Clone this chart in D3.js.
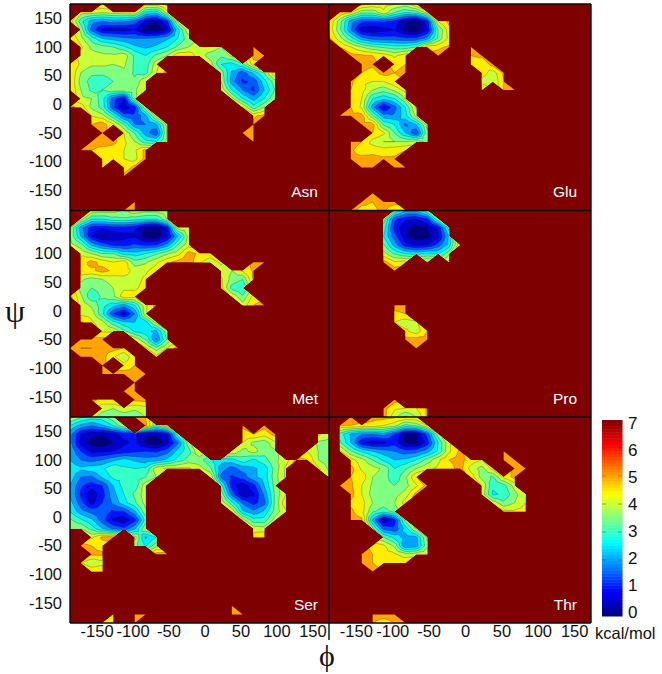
<!DOCTYPE html>
<html><head><meta charset="utf-8">
<script src="https://cdn.jsdelivr.net/npm/d3@7"></script>
<style>html,body{margin:0;background:#fff}svg{display:block}text{font-family:"Liberation Sans",Arial,sans-serif}</style>
</head><body><svg id="c" width="662" height="674"></svg>
<script>
const _ = null;
// Each row: [first column index, values...]; rows run from psi=180 (top) to psi=-180, columns phi=-180..180 in 15 degree steps.
const asn = [
[3,5.0,_,_,_,4.8,4.8,5.2],
[1,4.2,4.2,4.0,4.2,4.3,4.4,2.9,2.6,4.3],
[0,4.8,3.2,2.2,2.0,2.2,2.1,1.8,.9,.5,1.4,4.2],
[1,3.9,1.8,.9,.8,.8,1.0,.2,.1,.7,2.8,4.4],
[0,5,4.2,3.3,2.5,2.3,2.1,2.0,2.0,2.1,2.4,3.0,3.8],
[1,4.6,3.9,3.7,3.5,3.1,2.6,2.4,2.6,3.0,3.6,4.0,4.2,4.3,4.0,_,_,5.1],
[1,4.3,4.2,4.1,4.1,4.3,3.4,3.0,3.6,4.0,4.9,4.9,4.2,3.8,3.6,4.1,_,5.2,5.3],
[0,5,4.4,4.1,4.1,4.0,4.1,3.4,3.2,4.3,_,_,_,_,4.2,3.0,2.8,3.4,4.8],
[0,5,4.0,3.6,3.6,3.7,3.9,3.4,3.3,4.5,5.2,_,_,_,_,3.8,2.4,1.7,2.6,3.5,5],
[0,5,3.8,3.3,3.2,3.5,3.8,3.6,4.5,_,_,_,_,_,_,4,2.2,1.4,1.6,2.8,3.8],
[0,5,4.0,3.4,3.5,3.8,3.8,3.9,4.5,_,_,_,_,_,_,4.4,3.0,2.0,1.4,2.5,3.5],
[1,4.1,4.0,3.2,1.7,1.0,3.9,_,_,_,_,_,_,_,_,4.2,3.0,2.3,3.0,4.0],
[0,5.2,4.8,3.9,3.3,1.6,.6,1.3,4.0,_,_,_,_,_,_,_,_,4.5,3.2,4.0],
[2,4.5,4.2,3.2,1.8,1.6,2.3,4.2,_,_,_,_,_,_,_,_,4.9,5.2],
[2,5,5.3,4.6,3.5,2.0,2.0,2.4,4.2,_,_,_,_,_,_,_,5.2],
[3,5.3,_,4.5,3.5,2.2,1.6,4.1,_,_,_,_,_,_,5.2,5.2],
[2,5.2,5.3,5.2,4.6,4.0,3.2,3.0,4.2,_,_,_,_,_,_,_,5.2],
[1,5,5,4.8,4.7,4.5,4.4,5.2],
[3,4.9,4.8,4.5,4.3,5.2],
[3,4.9,_,4.6,5.2],
[5,5.2],
[],[],
[6,5.2],
[5,5.1,5.0]];
const glu = [
[3,5.2,4.9,4.7,4.5,4.3,5],
[1,5,4.5,3.6,3.6,4.4,3.5,3.0,3.2,4.2],
[0,5,3.7,2.2,1.6,1.5,1.6,1.3,.6,.2,1.2,4.5,5.2],
[0,4.9,3.6,2.0,.7,.6,.8,1.0,.3,.1,.9,3.5,4.8],
[0,5.1,4.2,3.2,2.2,1.8,1.7,1.7,1.6,1.6,2.2,3.6,4.7],
[1,5,4.5,4,3.6,3.4,3.2,3.2,3.5,4.8,4.9,5.1,_,5.2],
[2,5.2,5.1,5.0,4.8,4.4,4.8,_,_,5.2,_,_,5,5.1],
[3,5.2,5.1,_,4.9,5.0,_,_,_,_,_,4.9,4.6,5.2],
[3,5,4.8,5.2,5,5.1,_,_,_,_,_,_,4.8,4.2,5.1],
[2,5.1,4.6,4.5,4.5,4.9,_,_,_,_,_,_,_,4.3,4.0,5.0],
[2,5,4.7,4.0,3.7,4.1,4.7,_,_,_,_,_,_,5.0,_,5.0,5.1],
[2,5,4.5,3.0,2.6,3.0,4.0],
[2,5,4.4,2.2,.9,1.8,3.0,4.6],
[1,5.2,5.1,5.2,3.6,2.2,2.1,2.8,4.2],
[3,5.2,5.2,3.4,3.0,1.9,2.5,4.2],
[4,5.0,4.6,3.5,2.5,1.5,3.9],
[2,5.3,5,4.3,4.0,4.0,4.0,4.2,3.9],
[2,5.1,4.7,4.8,4.7,4.8,5.0],
[2,5.1,5.2,5.2,5.1,5.1],
[3,5.2,5.2,_,5.2,5.2],
[],[],
[4,5.3],
[3,5.2,5,5.2,5.2],
[2,5.3,4.7,4.9,5.1,4.6,4.7,5.2]];
const met = [
[2,4.4,4.3,4.2,3.9,4.4,4.2,4.2,4.3],
[1,4.2,3,3,3.3,3.4,3.2,3,3,4],
[0,4.1,2.2,1.2,1.1,1.3,1.3,1.1,.4,.2,1.1,4.2,4.4],
[0,4,2.5,1,.4,.6,.8,.9,.2,.2,.8,2.5,4.2],
[0,4.2,3.7,2.4,1.8,1.4,1.3,1.6,1.4,1.5,2.2,3.5,4.3],
[1,4.4,4,3.5,3.5,2.8,2.7,3,3.4,3.9,4.3,5.2,4.9,4.8],
[1,4.7,5.2,4.8,4.5,4.8,3.7,3.9,4.4,4.9,5.2,5.3,4.6,4.2,4.6,_,_,5.2,5.3],
[1,4.9,4.9,5.2,4.9,4.8,4.3,4.4,4.8,_,_,_,_,_,4.3,4.0,4.6,5.1],
[1,4.1,3.8,4,4.2,4.3,4.3,4.6,_,_,_,_,_,_,4.6,3.8,3.5,5.1],
[1,3.8,3.5,3.7,4,4.4,4.4,4.7,_,_,_,_,_,_,4.7,3.3,3.0],
[0,5.2,4.1,3.1,3.6,3.9,4.8,4.7,_,_,_,_,_,_,_,_,4.4,3.6,4.7],
[1,4.3,3.9,3.2,2.7,2.3,3.0,4.4,5.2,_,_,_,_,_,_,_,4.2,5,5.2],
[1,4.4,4.3,3.1,1.5,.8,2,4.4],
[1,5.1,4.6,4.2,3.2,2.6,2.5,2.7,4.2],
[3,4.4,4.4,3.6,2.9,2.6,2.4,3.9],
[1,5.2,5.2,5.2,_,_,4.4,3.5,1.9,3.6],
[0,5.3,5,5,5.1,5.2,5.0,_,4.6,3.7,4.5,5.3],
[1,5.3,5.2,5.2,4.6,4.0,5.0,_,4.7],
[3,5.2,_,4.7,5.0],
[3,5.2,5.2,5.2,5.1,5.2],
[6,5.2],
[5,5.2,5.2],
[2,5.2,4.8,5.0,_,5.1,5.2],
[3,4.2,4,4.3,4.1,4.3],
[2,4.2,3.7,3.6,3.7,3.6,4.0]];
const pro = [
[6,3.5,2.6,2.6,3.5],
[5,3.8,1.6,1.1,1.0,1.4,3.5],
[5,3.3,1.3,.6,.3,.5,1.1,3.2],
[5,3,1.7,.6,.2,.3,.8,2.6],
[5,3.6,2.3,1.2,.8,1,1.7,2.7,5],
[5,4.2,3.4,3,2.8,3,2.9,3.8],
[5,5.2,4.6,4.7,_,4.7,_,4.7],
[6,5.3],
[],[],[],
[6,5.2,5.2],
[6,4.9,5.0],
[6,4.5,4.2,4.4],
[7,4.6,4.2,5.0],
[7,5.2,5.2,5.2],
[8,5.2],
[],[],[],[],[],
[6,5.2],
[5,5.2,4.6,4.5,4.5,5.1],
[5,5.2,4.2,3.4,4.0,5.1]];
const ser = [
[0,4.2,3.6,3.3,3.3,3.9,_,5.2,5.0],
[0,3,2.3,2,2.4,3,4,_,5.2,3.5,4.5,_,_,_,_,_,_,5.2,_,5.2],
[0,2.2,1,.6,.6,.8,1.2,1.1,.6,.6,.9,3.3,_,_,_,_,_,4.6,5,4.7,5.2,_,_,_,4.6,4.2],
[0,2.2,.8,.3,.1,.5,.9,1.1,.4,.1,.7,1.9,3.8,_,_,_,_,4.5,3.9,3.7,4.4,_,_,_,3.9,3.8],
[0,2.4,1.5,.9,.9,1,1.2,1.4,1.5,1.4,1.8,2.7,3.3,4.5,_,_,4.5,3.8,4.2,3.7,3.9,_,_,4.5,4,3.9],
[0,2.5,2.0,1.8,2.0,2.4,2.7,2.4,2.2,2.3,2.6,3.2,3.7,3.7,3.1,2.7,2.8,3.3,2.9,3.3,3.9,4.2,5.2,5,4,3.7],
[0,2.8,2.6,2.8,2.9,3.4,3.1,3,3.1,4.3,4.6,4.6,4.6,4.2,3.6,2.2,1.8,2.2,2.4,2.7,3.7,4.6,_,_,4.6,3.9],
[0,2.8,2,1.9,2.6,3.1,3.1,3.3,3.5,4,_,_,_,_,4.5,1.9,1.4,1.7,2.4,2.7,3.8,4.6,_,_,_,4.1],
[0,2.5,1.6,1.2,1.5,2.5,3.2,3.2,4.3,_,_,_,_,_,_,3.2,1.2,.7,1.3,2.5,3.7,_,_,_,_,5.0],
[0,2.5,1.4,.6,1.3,2.3,3,3.6,4.3,_,_,_,_,_,_,3.9,1.8,.6,.9,2.1,3.6,4.5,_,_,_,4.7],
[0,2.7,1.7,.8,1.5,2.1,2.8,3.4,4.2,_,_,_,_,_,_,4.4,3.2,1.9,1.3,1.8,3.6,4.9,_,_,_,5.2],
[0,3,2.2,1.8,1.8,1.4,1.5,2.4,3.9,_,_,_,_,_,_,_,4.4,2.6,2.1,2.6,3.7,4.4],
[0,3.6,3.1,2.6,1.7,.9,.6,1.3,3.2,_,_,_,_,_,_,_,_,4.2,3.2,3.2,4.2],
[0,4,4,3.3,2.5,1.9,1.6,2.4,4.0,_,_,_,_,_,_,_,_,_,4.3,4.2],
[2,4.4,5.1,5.2,_,4.2,2.4,3.0,_,_,_,_,_,_,_,_,4.7,5],
[1,5.2,5,4.8,_,_,3.7,2.9,3.8],
[2,5.1,5.1,_,_,_,_,5.3,5.3],
[1,4.5,4,4.3],
[2,5,5],
[],[],[],
[15,5.2],
[4,5,_,5.2,5.2,_,_,_,_,_,_,_,5.2,5.2],
[3,5,5,_,5]];
const thr = [
[2,5.3,_,5.2,5.2,5.1,5,5],
[1,5,5,4.9,4.8,4.5,4.2,3.3,3.6,4.5],
[1,3.3,2.4,2,2,2.2,1.5,.4,.4,1.7,3.8],
[1,3.6,2.5,1.1,.7,.9,1.3,.4,.3,1.2,3,4.4],
[1,4.6,3.6,2.9,2.5,2.2,2,1.7,1.8,2.3,3.1,4.4,5.1,_,_,_,5.3],
[2,4.7,4.2,3.5,2.9,2.5,2.6,3,3.7,4.4,5,5.2,4.8,4.5,_,5.2,5.3],
[2,5.2,4.4,4.2,3.9,3,3.4,4,4.4,4.6,4.8,5.2,4.3,3.8,4.7,_,5.2,5.3],
[2,5,4.8,4,3.8,3.1,3.9,5,_,_,_,_,4.8,3.8,3.4,4.6,5.2],
[1,5.2,5.1,4.5,3.9,3.7,3.5,3.8,4.4,5.2,_,_,_,_,4.5,3.1,3.3,4.2],
[2,5.2,4.5,3.8,3.6,3.8,4.2,5.2,_,_,_,_,_,4.3,2.9,3.1,3.8,4.5],
[2,4.9,4.7,4,3.8,4,4.7,_,_,_,_,_,_,_,4.3,3.6,4,4.5],
[2,5.1,4.7,3.6,3.2,3.7,_,_,_,_,_,_,_,_,_,4.6,4.6,4.7],
[2,5.2,5.1,2.4,.5,1.3,3.7],
[4,3.6,1.8,1.6,2.7,4.1],
[5,3.5,2.8,2.3,2.4,4.1],
[4,4.9,4.6,3.9,2,2.2,3.9],
[3,5.2,5,4.7,4.6,4.2,4.3,4.5],
[3,5.1,5,4.8,5,5],
[4,5.2],
[],[],[],[],
[4,5.2,5.2,5.2],
[4,5,4.8,5,5.2]];

const phiAxis = d3.range(-180,181,15);
const psiAxis = d3.range(180,-181,-15);
const phiTicks = [-150,-100,-50,0,50,100,150];
const psiTicks = [150,100,50,0,-50,-100,-150];
const levels = d3.range(0,5.5,.5);
const barTicks = [0,1,2,3,4,5,6,7];
const panels = [
 {name:"Asn",rows:asn,c:0,r:0},{name:"Glu",rows:glu,c:1,r:0},
 {name:"Met",rows:met,c:0,r:1},{name:"Pro",rows:pro,c:1,r:1},
 {name:"Ser",rows:ser,c:0,r:2},{name:"Thr",rows:thr,c:1,r:2}];
const colX = [[70,329],[329,591]];
const rowY = [[4,210.5],[210.5,417],[417,623]];

const jet = d3.scaleLinear().domain([0,.125,.375,.625,.875,1]).range(["#00007f","#0000ff","#00ffff","#ffff00","#ff0000","#7f0000"]);
const energy = v => jet(v/7);
const DARK = jet(1);
const svg = d3.select("#c");
svg.append("rect").attr("x",70).attr("y",4).attr("width",521).attr("height",619).attr("fill",DARK);

function expand(rows){
  return rows.map(r=>{const a=new Array(25).fill(null);r.slice(1).forEach((v,k)=>{a[r[0]+k]=v;});return a;});
}
function triangles(g){
  const out=[];
  for(let j=0;j<24;j++)for(let i=0;i<24;i++){
    const loop=[[i,j],[i+1,j],[i+1,j+1],[i,j+1]]
      .map(([a,b])=>[phiAxis[a],psiAxis[b],g[b][a]]).filter(p=>p[2]!==null);
    if(loop.length===3) out.push(loop);
    else if(loop.length===4){
      const m=[d3.mean(loop,p=>p[0]),d3.mean(loop,p=>p[1]),d3.mean(loop,p=>p[2])];
      for(let k=0;k<4;k++) out.push([loop[k],loop[(k+1)%4],m]);
    }
  }
  return out;
}
const cross=(a,b,L)=>{const t=(L-a[2])/(b[2]-a[2]);return [a[0]+t*(b[0]-a[0]),a[1]+t*(b[1]-a[1]),L];};
function below(tri,L){
  const o=[];
  tri.forEach((a,k)=>{const b=tri[(k+1)%tri.length];
    if(a[2]<=L)o.push(a);
    if((a[2]<=L)!==(b[2]<=L))o.push(cross(a,b,L));});
  return o;
}
const fmt = d=>String(d);
panels.forEach(p=>{
  const x=d3.scaleLinear([-180,180],colX[p.c]);
  const y=d3.scaleLinear([180,-180],rowY[p.r]);
  const tris=triangles(expand(p.rows));
  const g=svg.append("g");
  const poly=(ctx,pts)=>{pts.forEach((q,k)=>k?ctx.lineTo(x(q[0]),y(q[1])):ctx.moveTo(x(q[0]),y(q[1])));ctx.closePath();};
  const base=d3.path();tris.forEach(t=>poly(base,t));
  g.append("path").attr("d",base.toString()).attr("fill",energy(5));
  d3.range(levels.length-1,0,-1).forEach(k=>{
    const ctx=d3.path();
    tris.forEach(t=>{const c=below(t,levels[k]);if(c.length>2)poly(ctx,c);});
    g.append("path").attr("d",ctx.toString()).attr("fill",energy(levels[k-1]));
  });
  const lines=d3.path();
  levels.slice(1).forEach(L=>tris.forEach(t=>{
    const s=[];
    t.forEach((a,k)=>{const b=t[(k+1)%t.length];if((a[2]<=L)!==(b[2]<=L))s.push(cross(a,b,L));});
    if(s.length===2){lines.moveTo(x(s[0][0]),y(s[0][1]));lines.lineTo(x(s[1][0]),y(s[1][1]));}
  }));
  g.append("path").attr("d",lines.toString()).attr("fill","none").attr("stroke","#1a1a10").attr("stroke-opacity",.45).attr("stroke-width",.6);
  svg.append("text").attr("x",colX[p.c][1]-(p.c?14:11)).attr("y",rowY[p.r][1]-(p.r==0?14:13)).attr("text-anchor","end")
    .attr("fill","#fff").attr("font-size",15.5).text(p.name);
  if(p.c===0){
    const ax=svg.append("g").attr("transform",`translate(70,-3)`)
      .call(d3.axisLeft(y).tickValues(psiTicks).tickFormat(fmt).tickSize(0).tickPadding(8));
    ax.select(".domain").remove();
    ax.selectAll("text").attr("font-size",16.5).attr("font-family",'"Liberation Sans"').attr("fill","#111");
  }
  if(p.r===2){
    const ax=svg.append("g").attr("transform",`translate(5,622)`)
      .call(d3.axisBottom(x).tickValues(phiTicks).tickFormat(fmt).tickSize(0).tickPadding(3));
    ax.select(".domain").remove();
    ax.selectAll("text").attr("font-size",16.5).attr("font-family",'"Liberation Sans"').attr("fill","#111");
  }
});
const frame=[[70,4,591,4],[70,210.5,591,210.5],[70,417,591,417],[70,623,591,623],[70,4,70,623],[329,4,329,640],[591,4,591,623]];
svg.append("g").selectAll("line").data(frame).join("line")
  .attr("x1",d=>d[0]).attr("y1",d=>d[1]).attr("x2",d=>d[2]).attr("y2",d=>d[3])
  .attr("stroke","#0a0a0a").attr("stroke-width",1.4);
const barY=d3.scaleLinear([0,7],[616,420]);
const barLabelY=d3.scaleLinear([0,7],[612,423]);
const steps=d3.range(64);
svg.append("g").selectAll("rect").data(steps).join("rect")
  .attr("x",602).attr("width",20.5)
  .attr("y",d=>barY((d+1)*7/64)).attr("height",d=>barY(d*7/64)-barY((d+1)*7/64)+.5)
  .attr("fill",d=>jet((d+.5)/64));
svg.append("g").selectAll("path").data(barTicks.slice(1,-1)).join("path")
  .attr("d",d=>`M602,${barY(d)}h4M618,${barY(d)}h4`).attr("stroke","#333").attr("stroke-opacity",.5).attr("stroke-width",.8);
const barAxis=svg.append("g").attr("transform","translate(622,0)")
  .call(d3.axisRight(barLabelY).tickValues(barTicks).tickFormat(fmt).tickSize(0).tickPadding(6));
barAxis.select(".domain").remove();
barAxis.selectAll("text").attr("font-size",17).attr("font-family",'"Liberation Sans"').attr("fill","#111");
svg.append("text").attr("x",595).attr("y",639).attr("font-size",16.5).attr("fill","#111").text("kcal/mol");
svg.append("text").attr("x",15).attr("y",322).attr("text-anchor","middle").style("font-family",'"Liberation Serif",serif').attr("font-size",32).attr("fill","#111").text("ψ");
svg.append("text").attr("x",327).attr("y",666).attr("text-anchor","middle").style("font-family",'"Liberation Serif",serif').attr("font-size",30).attr("fill","#111").text("ϕ");
</script></body></html>
